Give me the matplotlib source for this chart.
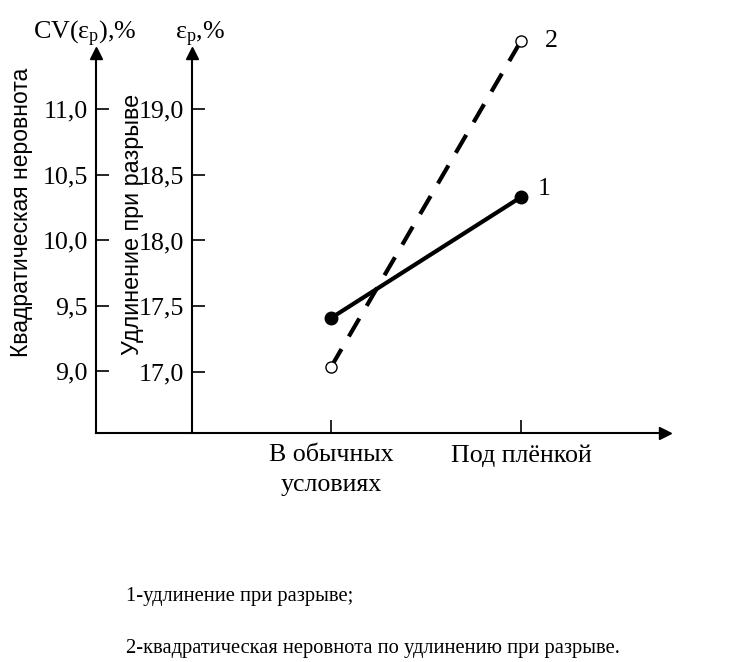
import matplotlib.pyplot as plt

plt.rcParams['font.family'] = ['Liberation Serif', 'DejaVu Serif']
plt.rcParams['mathtext.fontset'] = 'custom'
plt.rcParams['mathtext.rm'] = 'Liberation Serif'
plt.rcParams['mathtext.it'] = 'Liberation Serif:italic'

# Data
categories = ['В обычных\nусловиях', 'Под плёнкой']
elongation = [17.41, 18.33]        # 1 - удлинение при разрыве, eps_p, %
cv_elongation = [9.03, 11.52]      # 2 - квадратическая неровнота, CV(eps_p), %
cv_ticks = [9.0, 9.5, 10.0, 10.5, 11.0]
eps_ticks = [17.0, 17.5, 18.0, 18.5, 19.0]

W, H = 743, 662
fig = plt.figure(figsize=(W / 100, H / 100), dpi=100)

# axes box in pixels: left 96, right 665, top 53, bottom 433
x0, x1, ytop, ybot = 96, 665, 53, 433
ax = fig.add_axes([x0 / W, 1 - ybot / H, (x1 - x0) / W, (ybot - ytop) / H])
ax2 = ax.twinx()

xs = range(len(categories))
ax.set_xlim(-(331 - x0) / 190, 1 + (x1 - 521) / 190)
ax.set_ylim(9.0 - (ybot - 371) / 131, 9.0 + (371 - ytop) / 131)
ax2.set_ylim(17.0 - (ybot - 372) / 131.5, 17.0 + (372 - ytop) / 131.5)

for a in (ax, ax2):
    for s in a.spines.values():
        s.set_visible(False)
    a.patch.set_visible(False)

lw_ax = 1.5
ax.spines['left'].set_visible(True)
ax.spines['bottom'].set_visible(True)
ax.spines['left'].set_linewidth(lw_ax)
ax.spines['bottom'].set_linewidth(lw_ax)

ax2.spines['left'].set_visible(True)
ax2.spines['left'].set_linewidth(lw_ax)
ax2.spines['left'].set_position(('axes', (192 - x0) / (x1 - x0)))
ax2.yaxis.tick_left()

fs = 18.7
ax.set_yticks(cv_ticks)
ax.set_yticklabels([f'{v:.1f}'.replace('.', ',') for v in cv_ticks])
ax2.set_yticks(eps_ticks)
ax2.set_yticklabels([f'{v:.1f}'.replace('.', ',') for v in eps_ticks])
for a in (ax, ax2):
    a.tick_params(axis='y', direction='in', length=9, width=1.2, pad=6,
                  labelsize=fs, left=True, right=False)

ax.set_xticks(list(xs))
ax.set_xticklabels(categories, fontsize=fs, linespacing=1.45)
ax.tick_params(axis='x', direction='in', length=9.5, width=1.2, pad=8)

# arrow heads
ax.plot(0, 1, marker='^', color='black', ms=9, transform=ax.transAxes, clip_on=False)
ax.plot((192 - x0) / (x1 - x0), 1, marker='^', color='black', ms=9,
        transform=ax.transAxes, clip_on=False)
ax.plot(1, 0, marker='>', color='black', ms=9, transform=ax.transAxes, clip_on=False)

# series
ax2.plot(xs, elongation, color='black', lw=3, marker='o', ms=9,
         mfc='black', clip_on=False, zorder=5)
ax.plot(xs, cv_elongation, color='black', lw=3, ls=(0, (5, 3.5)), marker='o',
        ms=8, mfc='white', mew=1, clip_on=False, zorder=5)

ax2.annotate('1', (1, elongation[1]), xytext=(12, 6), textcoords='offset points',
             fontsize=fs, va='center', ha='left', annotation_clip=False)
ax.annotate('2', (1, cv_elongation[1]), xytext=(17, 0), textcoords='offset points',
            fontsize=fs, va='center', ha='left', annotation_clip=False)

# axis titles
fig.text(85 / W, 1 - 34 / H, 'CV(ε$_\\mathrm{p}$),%', fontsize=fs, ha='center', va='center')
fig.text(200 / W, 1 - 34 / H, 'ε$_\\mathrm{p}$,%', fontsize=fs, ha='center', va='center')

fig.text(22 / W, 1 - 212 / H, 'Квадратическая неровнота', family='Liberation Sans',
         fontsize=16.5, rotation=90, ha='center', va='center')
fig.text(133 / W, 1 - 224 / H, 'Удлинение при разрыве', family='Liberation Sans',
         fontsize=16.8, rotation=90, ha='center', va='center')

# caption
fig.text(126 / W, 1 - 597 / H, '1-удлинение при разрыве;', fontsize=14.8, va='center')
fig.text(126 / W, 1 - 649 / H, '2-квадратическая неровнота по удлинению при разрыве.',
         fontsize=14.8, va='center')

fig.savefig('out.png', dpi=100)
